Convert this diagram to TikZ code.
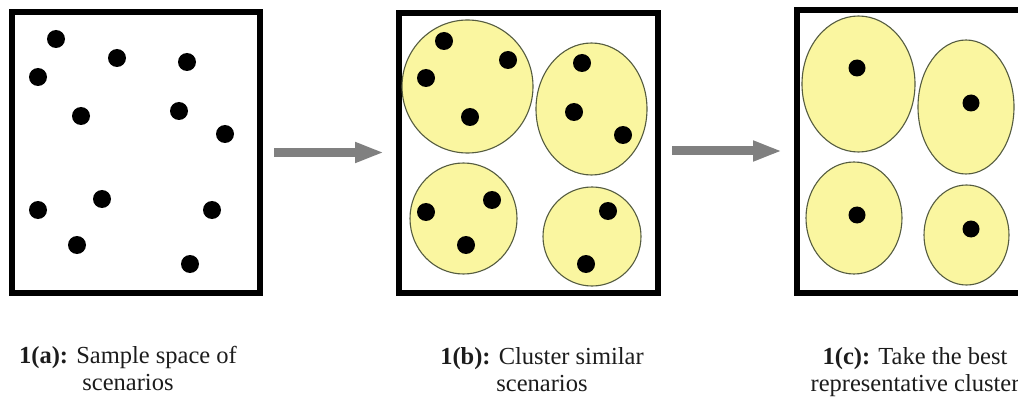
\documentclass[tikz,border=0pt]{standalone}
\usepackage{fontspec}
\setmainfont{Liberation Serif}
\usetikzlibrary{arrows.meta}

\definecolor{clusterfill}{RGB}{250,246,160}
\definecolor{clusteredge}{RGB}{85,92,64}
\definecolor{arrowgray}{RGB}{128,128,128}
\definecolor{labeltext}{RGB}{28,28,28}

\tikzset{
  panel/.style={draw=black, line width=6pt, fill=white, inner sep=0pt},
  cluster/.style={fill=clusterfill, draw=clusteredge, line width=1.1pt},
  point/.style={fill=black},
  flow/.style={draw=arrowgray, line width=9pt,
    -{Triangle[length=29pt,width=19pt]}, shorten <=11pt, shorten >=12pt},
  % base anchor of a two-line caption sits on its second line
  caption/.style={align=center, anchor=base, text=labeltext, inner sep=0pt,
    font=\fontsize{24.5pt}{27pt}\selectfont}
}

\begin{document}
\begin{tikzpicture}[x=1pt, y=-1pt]
  \useasboundingbox (0,0) rectangle (1018,401);
  \clip (0,0) rectangle (1018,401);

  % the three panels
  \node[panel, minimum width=248pt, minimum height=281pt] (pa) at (136,152.5) {};
  \node[panel, minimum width=259pt, minimum height=280pt] (pb) at (528.5,153) {};
  \node[panel, minimum width=233pt, minimum height=283pt] (pc) at (913.5,151.5) {};

  % panel (a): scattered scenarios
  \foreach \p in {(56,39),(117,58),(187,62),(38,77),(81,116),(179,111),
                  (225,134),(102,199),(38,210),(212,210),(77,245),(190,264)}
    {\fill[point] \p circle[radius=9pt];}

  % panel (b): clusters of similar scenarios
  \path[cluster] (467.5,86.5) ellipse[x radius=65.5pt, y radius=66.5pt];
  \path[cluster] (591.5,109)  ellipse[x radius=55.5pt, y radius=66pt];
  \path[cluster] (463.5,218.5) ellipse[x radius=53.5pt, y radius=55.5pt];
  \path[cluster] (592,236.5)  ellipse[x radius=49pt, y radius=49.5pt];
  \foreach \p in {(444,41),(508,60),(426,78),(470,117),(582,63),(574,112),
                  (623,135),(426,212),(492,200),(466,245),(608,211),(586,264)}
    {\fill[point] \p circle[radius=9pt];}

  % panel (c): one representative per cluster
  \path[cluster] (858.5,84)  ellipse[x radius=56.5pt, y radius=68pt];
  \path[cluster] (966,107)   ellipse[x radius=48pt, y radius=67pt];
  \path[cluster] (854,218)   ellipse[x radius=48pt, y radius=56pt];
  \path[cluster] (966.5,235) ellipse[x radius=42.5pt, y radius=50pt];
  \foreach \p in {(857,68),(971,103),(857,215),(971,229)}
    {\fill[point] \p circle[radius=8.5pt];}

  % flow between panels
  \draw[flow] (pa.east) -- (pa.east -| pb.west);
  \draw[flow] ([yshift=2pt]pb.east) -- ([yshift=2pt]pb.east -| pc.west);

  % captions
  \node[caption] (ca) at (128,390) {\textbf{1(a):} Sample space of\\scenarios};
  \node[caption] (cb) at (542,391) {\textbf{1(b):} Cluster similar\\scenarios};
  \node[caption] (cc) at (915,391) {\textbf{1(c):} Take the best\\representative cluster};
\end{tikzpicture}
\end{document}
